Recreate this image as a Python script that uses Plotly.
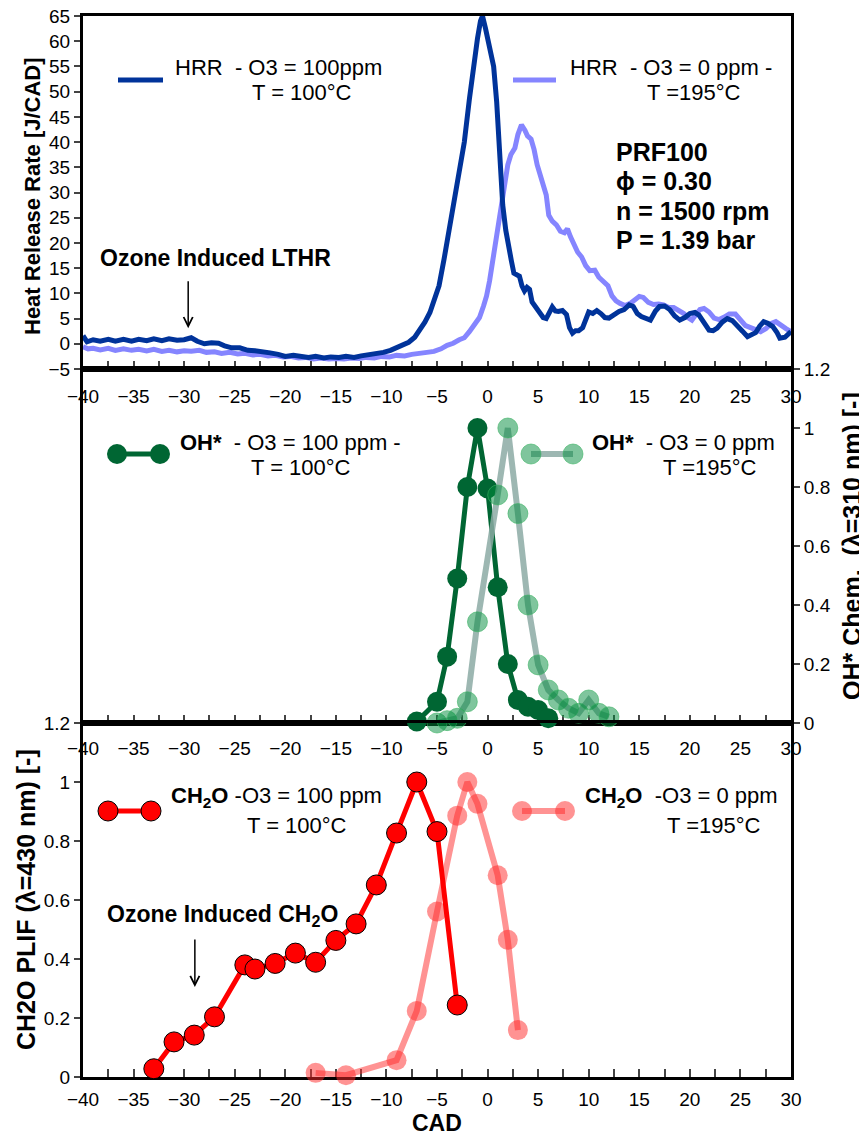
import plotly.graph_objects as go

# ---------------- data ----------------
# heat release rate, O3 = 100 ppm, T = 100 C
hrr_100_cad = [-40, -39.6, -39, -38.3, -37.5, -36.8, -36, -35.2, -34.5, -33.7, -33, -32.2, -31.5, -30.7, -30,
               -29.3, -28.7, -28, -27.3, -26.6, -26, -25.3, -24.5, -23.7, -23, -22.3, -21.5, -20.7, -20, -19.2,
               -18.5, -17.7, -17, -16.2, -15.5, -14.7, -14, -13.2, -12.5, -11.7, -11, -10.3, -9.6, -9, -8.4,
               -7.8, -7.2, -6.7, -6.2, -5.7, -5.2, -4.8, -4.3, -3.8, -3.3, -2.8, -2.3, -1.8, -1.4, -1.0, -0.7,
               -0.5, -0.2, 0.2, 0.6, 0.9, 1.1, 1.3, 1.5, 1.8, 2.1, 2.35, 2.6, 2.9, 3.15, 3.4, 3.65, 3.9, 4.15,
               4.4, 4.7, 5.1, 5.5, 5.8, 6.1, 6.4, 6.7, 7.0, 7.4, 7.8, 8.1, 8.4, 8.7, 9.0, 9.4, 9.7, 10.0, 10.4,
               10.8, 11.2, 11.6, 12.0, 12.5, 13.0, 13.5, 14.0, 14.4, 14.8, 15.2, 15.7, 16.1, 16.6, 17.0, 17.5,
               18.0, 18.5, 19.0, 19.5, 20.0, 20.5, 20.9, 21.4, 21.9, 22.3, 22.7, 23.2, 23.7, 24.2, 24.7, 25.2,
               25.7, 26.1, 26.5, 26.9, 27.3, 27.7, 28.2, 28.6, 28.9, 29.4, 30]
hrr_100 = [1.6, 0.4, 0.8, 0.5, 0.9, 0.5, 0.9, 0.5, 0.9, 0.6, 1.0, 0.6, 1.0, 0.7, 0.8,
           1.2, 0.5, 0.0, 0.2, 0.1, -0.4, -0.8, -0.8, -1.3, -1.4, -1.7, -1.8, -2.1, -2.5, -2.3,
           -2.6, -2.7, -2.5, -2.8, -2.6, -2.7, -2.5, -2.7, -2.4, -2.2, -2.0, -1.7, -1.3, -0.8, -0.3,
           0.3, 1.3, 2.7, 4.3, 6.2, 8.8, 11.5, 16.8, 22.5, 28, 33, 40, 48.5, 55, 60.5, 64,
           65, 62.5, 58.5, 55, 48, 41.5, 31.5, 27.5, 22.5, 18.5, 16.5, 14, 13.8, 13.4, 11.5, 10.5, 11.2, 10.8,
           8.3, 7.4, 6.2, 5.2, 5.0, 6.0, 7.3, 6.5, 6.4, 6.6, 5.8, 3.2, 2.1, 2.6, 2.6, 3.2, 4.7, 6.3, 6.0,
           6.6, 6.0, 5.2, 5.1, 5.8, 6.4, 6.8, 7.7, 7.4, 6.0, 5.4, 5.0, 4.7, 6.5, 7.4, 7.5,
           6.8, 5.5, 4.7, 5.2, 6.0, 6.2, 5.7, 4.2, 2.7, 2.6, 3.1, 4.3, 5.0, 4.6, 3.7, 2.5,
           1.4, 1.7, 2.2, 3.5, 4.4, 4.1, 3.4, 2.3, 1.1, 1.3, 2.4]

# heat release rate, O3 = 0 ppm, T = 195 C
hrr_0_cad = [-40, -39.5, -39, -38.3, -37.5, -36.8, -36, -35.2, -34.5, -33.7, -33, -32.2, -31.5, -30.7, -30,
             -29.3, -28.5, -27.8, -27, -26.3, -25.5, -24.7, -24, -23.2, -22.5, -21.7, -21, -20.2, -19.5,
             -18.7, -18, -17.2, -16.5, -15.7, -15, -14.2, -13.5, -12.7, -12, -11.2, -10.5, -9.7, -9, -8.2,
             -7.5, -6.7, -6, -5.3, -4.6, -4.0, -3.4, -2.8, -2.3, -1.8, -1.3, -0.8, -0.4, -0.1, 0.2, 0.4,
             0.7, 1.0, 1.3, 1.6, 2.0, 2.3, 2.7, 3.0, 3.35, 3.7, 3.95, 4.3, 4.6, 4.9, 5.2, 5.5, 5.8, 6.05,
             6.4, 6.8, 7.2, 7.6, 7.9, 8.2, 8.5, 8.9, 9.3, 9.7, 10.1, 10.6, 11.0, 11.5, 11.9, 12.3, 12.7,
             13.1, 13.6, 14.1, 14.6, 15.0, 15.4, 15.9, 16.4, 16.9, 17.4, 17.9, 18.4, 18.9, 19.4, 19.8,
             20.2, 20.6, 21.0, 21.4, 21.9, 22.4, 22.9, 23.4, 23.9, 24.5, 25.0, 25.5, 26.0, 26.5, 27.0,
             27.5, 28.0, 28.5, 29.0, 29.5, 30]
hrr_0 = [-0.6, -1.0, -0.9, -1.2, -0.9, -1.3, -1.0, -1.3, -1.1, -1.4, -1.1, -1.5, -1.3, -1.6, -1.4,
         -1.5, -1.3, -1.7, -1.6, -1.9, -1.7, -2.0, -1.9, -2.2, -2.1, -2.4, -2.3, -2.6, -2.5,
         -2.8, -2.7, -3.0, -2.8, -3.0, -2.9, -3.0, -2.8, -2.9, -2.7, -2.8, -2.5, -2.6, -2.3, -2.4,
         -2.1, -2.0, -1.7, -1.5, -1.0, -0.3, 0.1, 0.8, 1.2, 2.4, 3.8, 5.2, 7.5, 9.5, 12.5, 15,
         19.5, 23.5, 27.5, 31.5, 35.5, 37.5, 38.8, 41.5, 43.4, 42.3, 41.2, 40.6, 38.5, 35.5, 33.5, 31.5, 29.5, 25.5,
         24.3, 23.6, 22.3, 22.0, 22.8, 21.2, 20.0, 18.2, 17.2, 15.5, 14.5, 14.6, 13.2, 12.3, 11.5, 9.5, 8.5,
         8.0, 7.6, 8.0, 8.8, 9.4, 9.2, 8.2, 7.8, 7.9, 7.7, 7.2, 7.2, 6.7, 6.0, 5.2,
         4.7, 5.8, 6.8, 7.0, 6.3, 5.1, 4.8, 5.3, 5.9, 5.9, 4.7, 3.6, 3.2, 2.8, 2.4,
         3.0, 4.0, 4.4, 3.6, 3.0, 2.4]

# OH* chemiluminescence (normalised)
oh_100_cad = [-7, -5, -4, -3, -2, -1, 0, 1, 2, 3, 4, 5, 6]
oh_100 = [0.005, 0.072, 0.225, 0.49, 0.80, 1.0, 0.795, 0.46, 0.20, 0.078, 0.055, 0.044, 0.016]
oh_0_cad = [-5, -4, -3, -2, -1, 1, 2, 3, 4, 5, 6, 7, 8, 9, 10, 11, 12]
oh_0 = [0.0, 0.008, 0.016, 0.072, 0.343, 0.773, 1.0, 0.71, 0.40, 0.197, 0.112, 0.078, 0.05, 0.033, 0.078, 0.033, 0.021]

# CH2O PLIF (normalised)
ch2o_100_cad = [-33, -31, -29, -27, -24, -23, -21, -19, -17, -15, -13, -11, -9, -7, -5, -3]
ch2o_100 = [0.028, 0.119, 0.142, 0.204, 0.38, 0.366, 0.385, 0.42, 0.389, 0.463, 0.519, 0.651, 0.827, 1.0, 0.832, 0.244]
ch2o_0_cad = [-17, -14, -9, -7, -5, -3, -2, -1, 1, 2, 3]
ch2o_0 = [0.014, 0.006, 0.057, 0.224, 0.561, 0.886, 1.0, 0.926, 0.684, 0.465, 0.159]

# ---------------- layout helpers ----------------
# the page body has an 8px margin, so the figure is offset by OFF on the page
OFF = 8
W, H = 859, 1125
L, R, T, B = 75, 76, 8, 56
PW, PH = W - L - R, H - T - B


def fx(px):
    # page pixel -> paper x
    return (px - OFF - L) / PW


def fy(py):
    # page pixel -> paper y
    return (H - B - (py - OFF)) / PH


FONT = "Liberation Sans, Arial, sans-serif"
DARK_BLUE = "#00339A"
LIGHT_BLUE = "#8585FF"
DARK_GREEN = "#006633"
RED = "#FF0000"
LIGHT_GREEN_LINE = "rgba(140,170,165,0.85)"
LIGHT_GREEN_DOT = "rgba(0,140,60,0.5)"
LIGHT_GREEN_EDGE = "rgba(60,180,100,0.6)"
LIGHT_RED = "rgba(255,40,40,0.5)"

fig = go.Figure()

# top panel: HRR
fig.add_trace(go.Scatter(x=hrr_0_cad, y=hrr_0, mode="lines", line=dict(color=LIGHT_BLUE, width=5),
                         xaxis="x", yaxis="y", showlegend=False))
fig.add_trace(go.Scatter(x=hrr_100_cad, y=hrr_100, mode="lines", line=dict(color=DARK_BLUE, width=5),
                         xaxis="x", yaxis="y", showlegend=False))

# middle panel: OH*
fig.add_trace(go.Scatter(x=oh_100_cad, y=oh_100, mode="lines+markers",
                         line=dict(color=DARK_GREEN, width=5),
                         marker=dict(size=20, color=DARK_GREEN, line=dict(width=0)),
                         xaxis="x2", yaxis="y2", cliponaxis=False, showlegend=False))
fig.add_trace(go.Scatter(x=oh_0_cad, y=oh_0, mode="lines+markers",
                         line=dict(color=LIGHT_GREEN_LINE, width=6),
                         marker=dict(size=20, color=LIGHT_GREEN_DOT, line=dict(width=1, color=LIGHT_GREEN_EDGE)),
                         xaxis="x2", yaxis="y2", cliponaxis=False, showlegend=False))

# bottom panel: CH2O
fig.add_trace(go.Scatter(x=ch2o_0_cad, y=ch2o_0, mode="lines+markers",
                         line=dict(color=LIGHT_RED, width=6),
                         marker=dict(size=20, color=LIGHT_RED, line=dict(width=0)),
                         xaxis="x3", yaxis="y3", cliponaxis=False, showlegend=False))
fig.add_trace(go.Scatter(x=ch2o_100_cad, y=ch2o_100, mode="lines+markers",
                         line=dict(color=RED, width=5),
                         marker=dict(size=20, color=RED, line=dict(width=1, color="black")),
                         xaxis="x3", yaxis="y3", cliponaxis=False, showlegend=False))

tickfont = dict(family=FONT, size=19, color="black")


def xaxis_style(anchor, standoff):
    return dict(anchor=anchor, range=[-40, 30], tick0=0, dtick=5, ticks="inside", ticklen=8, tickwidth=2,
                minor=dict(ticks="inside", tick0=0, dtick=2.5, ticklen=8, tickwidth=2),
                showline=True, linewidth=3, linecolor="black", mirror=True, showgrid=False,
                zeroline=False, tickfont=tickfont, ticklabelstandoff=standoff, layer="below traces")


ycommon = dict(ticks="outside", ticklen=6, tickwidth=2, showline=True, linewidth=3, linecolor="black",
               mirror=True, showgrid=False, zeroline=False, tickfont=tickfont, layer="below traces",
               ticklabeloverflow="allow")

d1 = fy(369)
d2 = fy(723)

fig.update_layout(
    width=W, height=H,
    margin=dict(l=L, r=R, t=T, b=B, autoexpand=False),
    paper_bgcolor="white", plot_bgcolor="white",
    font=dict(family=FONT, color="black"),
    xaxis=xaxis_style("y", 8),
    yaxis=dict(domain=[d1, 1], anchor="x", range=[-5, 65], dtick=5, **ycommon),
    xaxis2=xaxis_style("y2", 6),
    yaxis2=dict(domain=[d2, d1], anchor="x2", side="right", range=[0, 1.2], dtick=0.2, **ycommon),
    xaxis3=xaxis_style("y3", 3),
    yaxis3=dict(domain=[0, d2], anchor="x3", range=[0, 1.2], dtick=0.2, **ycommon),
)


def note(text, px, py, size=22, anchor="left", angle=0):
    fig.add_annotation(text=text, x=fx(px), y=fy(py), xref="paper", yref="paper",
                       xanchor=anchor, yanchor="middle", showarrow=False, textangle=angle,
                       font=dict(family=FONT, size=size, color="black"))


def key_line(x0, x1, py, color, width):
    fig.add_shape(type="line", xref="paper", yref="paper", x0=fx(x0), x1=fx(x1), y0=fy(py), y1=fy(py),
                  line=dict(color=color, width=width))


def key_dot(px, py, color, edge=None):
    fig.add_shape(type="circle", xref="paper", yref="paper", xsizemode="pixel", ysizemode="pixel",
                  xanchor=fx(px), yanchor=fy(py), x0=-10, x1=10, y0=-10, y1=10,
                  fillcolor=color, line=dict(color=edge or color, width=1 if edge else 0))


# axis titles
note("<b>Heat Release Rate [J/CAD]</b>", 32, 196, size=22, anchor="center", angle=-90)
note("<b>OH* Chem.\u00a0 (λ=310 nm) [-]</b>", 852, 546, size=25, anchor="center", angle=-90)
note("<b>CH2O PLIF (λ=430 nm) [-]</b>", 26, 900, size=25, anchor="center", angle=-90)
note("<b>CAD</b>", 437, 1123, size=23, anchor="center")

# top panel legend + text
key_line(118, 163, 80, DARK_BLUE, 5)
note("HRR\u00a0 - O3 = 100ppm", 173, 68)
note("T = 100°C", 250, 93)
key_line(513, 556, 80, LIGHT_BLUE, 5)
note("HRR\u00a0 - O3 = 0 ppm -", 568, 68)
note("T =195°C", 645, 93)
for i, line in enumerate(["PRF100", "ϕ = 0.30", "n = 1500 rpm", "P = 1.39 bar"]):
    note("<b>" + line + "</b>", 614, 152 + 29.3 * i, size=25)
note("<b>Ozone Induced LTHR</b>", 98, 258, size=23)
fig.add_annotation(x=-29.6, y=3.1, ax=-29.6, ay=12.7, xref="x", yref="y", axref="x", ayref="y",
                   text="", showarrow=True, arrowhead=5, arrowsize=1.2, arrowwidth=1.5, arrowcolor="black")

# middle panel legend
key_line(117, 160, 454, DARK_GREEN, 5)
key_dot(117, 454, DARK_GREEN)
key_dot(160, 454, DARK_GREEN)
note("<b>OH*</b>\u00a0 - O3 = 100 ppm -", 178, 442)
note("T = 100°C", 249, 467)
key_line(531, 573, 454, LIGHT_GREEN_LINE, 6)
key_dot(531, 454, LIGHT_GREEN_DOT, LIGHT_GREEN_EDGE)
key_dot(573, 454, LIGHT_GREEN_DOT, LIGHT_GREEN_EDGE)
note("<b>OH*</b>\u00a0 - O3 = 0 ppm", 590, 442)
note("T =195°C", 661, 467)

# bottom panel legend + text
key_line(108, 151, 811, RED, 5)
key_dot(108, 811, RED, "black")
key_dot(151, 811, RED, "black")
note("<b>CH<sub>2</sub>O</b> -O3 = 100 ppm", 169, 797)
note("T = 100°C", 245, 825)
key_line(522, 565, 811, LIGHT_RED, 6)
key_dot(522, 811, LIGHT_RED)
key_dot(565, 811, LIGHT_RED)
note("<b>CH<sub>2</sub>O</b>\u00a0 -O3 = 0 ppm", 583, 797)
note("T =195°C", 665, 825)
note("<b>Ozone Induced CH<sub>2</sub>O</b>", 105, 915, size=23)
fig.add_annotation(x=-28.94, y=0.305, ax=-28.94, ay=0.471, xref="x3", yref="y3", axref="x3", ayref="y3",
                   text="", showarrow=True, arrowhead=5, arrowsize=1.2, arrowwidth=1.5, arrowcolor="black")

fig.write_html("out.html")
